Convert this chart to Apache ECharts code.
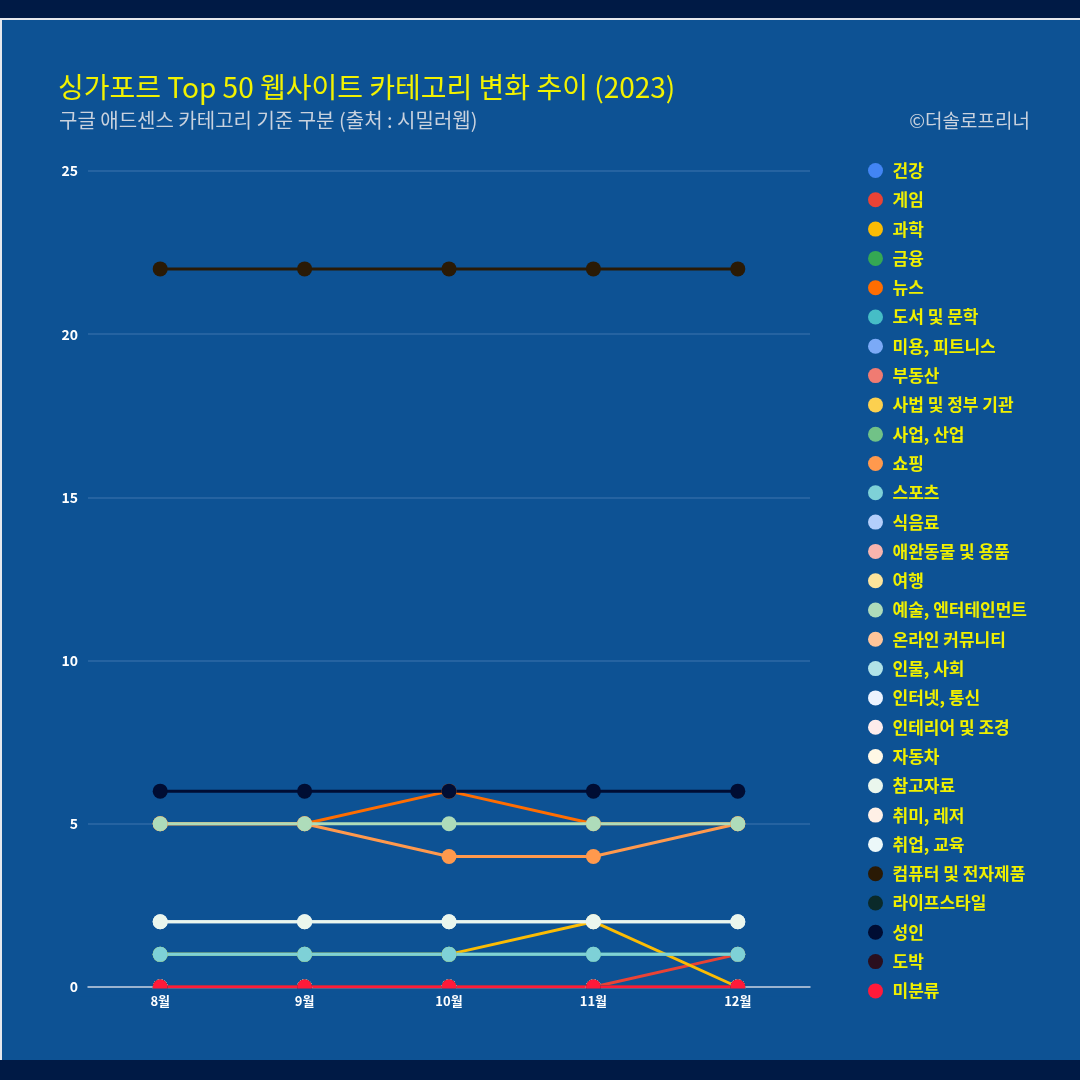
<!DOCTYPE html>
<html><head><meta charset="utf-8">
<script src="https://cdn.jsdelivr.net/npm/echarts@6/dist/echarts.min.js"></script>
<style>
html,body{margin:0;padding:0;width:1080px;height:1080px;background:#001a45;overflow:hidden}
#panel{position:absolute;left:0;top:18px;width:1078px;height:1040px;background:#0d5294;border-top:2px solid #e6e9ee;border-left:2px solid #e6e9ee}
#c{position:absolute;left:0;top:0;width:1080px;height:1080px}
</style></head><body>
<div id="panel"></div>
<div id="c"></div>
<script>
const months = ['8월','9월','10월','11월','12월'];
const names = ['건강','게임','과학','금융','뉴스','도서 및 문학','미용, 피트니스','부동산','사법 및 정부 기관','사업, 산업','쇼핑','스포츠','식음료','애완동물 및 용품','여행','예술, 엔터테인먼트','온라인 커뮤니티','인물, 사회','인터넷, 통신','인테리어 및 조경','자동차','참고자료','취미, 레저','취업, 교육','컴퓨터 및 전자제품','라이프스타일','성인','도박','미분류'];
const colors = ['#4285f4','#ea4335','#fbbc04','#34a853','#ff6d01','#46bdc6','#7baaf7','#f07b72','#fcd04f','#71c287','#ff994d','#7ed1d7','#b3cefb','#f7b4ae','#fde49b','#aedcba','#ffc599','#b1e3e7','#ecf3fe','#fdeceb','#fff8e6','#eaf6ed','#fff0e6','#ecf8f9','#2a1a05','#0a2a2a','#000d33','#2a0f1e','#ff1a3a'];
const v건강 = [0,0,0,0,0];
const v게임 = [0,0,0,0,1];
const v과학 = [1,1,1,2,0];
const v금융 = [0,0,0,0,0];
const v뉴스 = [5,5,6,5,5];
const v도서 = [0,0,0,0,0];
const v미용 = [0,0,0,0,0];
const v부동산 = [0,0,0,0,0];
const v사법 = [0,0,0,0,0];
const v사업 = [1,1,1,1,1];
const v쇼핑 = [5,5,4,4,5];
const v스포츠 = [1,1,1,1,1];
const v식음료 = [0,0,0,0,0];
const v애완 = [0,0,0,0,0];
const v여행 = [0,0,0,0,0];
const v예술 = [5,5,5,5,5];
const v온라인 = [0,0,0,0,0];
const v인물 = [0,0,0,0,0];
const v인터넷 = [2,2,2,2,2];
const v인테리어 = [0,0,0,0,0];
const v자동차 = [0,0,0,0,0];
const v참고 = [2,2,2,2,2];
const v취미 = [0,0,0,0,0];
const v취업 = [0,0,0,0,0];
const v컴퓨터 = [22,22,22,22,22];
const v라이프 = [0,0,0,0,0];
const v성인 = [6,6,6,6,6];
const v도박 = [0,0,0,0,0];
const v미분류 = [0,0,0,0,0];
const values = [v건강,v게임,v과학,v금융,v뉴스,v도서,v미용,v부동산,v사법,v사업,v쇼핑,v스포츠,v식음료,v애완,v여행,v예술,v온라인,v인물,v인터넷,v인테리어,v자동차,v참고,v취미,v취업,v컴퓨터,v라이프,v성인,v도박,v미분류];
const yTicks = [0,5,10,15,20,25];

const font = '"Noto Sans CJK KR", "Noto Sans", sans-serif';
const chart = echarts.init(document.getElementById('c'), null, {renderer:'canvas'});
chart.setOption({
  backgroundColor: 'transparent',
  color: colors,
  animation: false,
  title: [
    {text:'싱가포르 Top 50 웹사이트 카테고리 변화 추이 (2023)', left:53, top:68,
     textStyle:{color:'#f2f200', fontSize:28, fontWeight:'normal', fontFamily:font}},
    {text:'구글 애드센스 카테고리 기준 구분 (출처 : 시밀러웹)', left:54, top:105,
     textStyle:{color:'#c9d2de', fontSize:20, fontWeight:'normal', fontFamily:font}},
    {text:'©더솔로프리너', right:45, top:106,
     textStyle:{color:'#c9d2de', fontSize:19, fontWeight:'normal', fontFamily:font}}
  ],
  grid: {left:88, right:270, top:171, bottom:93},
  legend: {
    orient:'vertical', left:863, top:157, icon:'circle',
    itemWidth:24, itemHeight:15, itemGap:12.3,
    data: names,
    textStyle:{color:'#f0f000', fontSize:17, fontWeight:'bold', fontFamily:font, lineHeight:17}
  },
  xAxis: [{
    type:'category', data: months, boundaryGap:true, z:10,
    axisLine:{show:false},
    axisTick:{show:false},
    axisLabel:{color:'#ffffff', fontSize:13, fontWeight:'bold', fontFamily:font, margin:8}
  },{
    type:'category', data: months, boundaryGap:true, z:0, position:'bottom',
    axisLine:{lineStyle:{color:'#c4cede', width:1.5}},
    axisTick:{show:false}, axisLabel:{show:false}
  }],
  yAxis: {
    type:'value', min:0, max:25, interval:5,
    axisLabel:{color:'#ffffff', fontSize:14, fontWeight:'bold', fontFamily:font, margin:10,
      formatter: v => yTicks.includes(v) ? String(v) : ''},
    splitLine:{lineStyle:{color:'#2e6aa6', width:1.5}},
    axisLine:{show:false}, axisTick:{show:false}
  },
  graphic: [{type:'rect', z:5, shape:{x:80, y:988.6, width:740, height:8}, style:{fill:'#0d5294'}}],
  series: names.map((n,i)=>({
    name:n, type:'line', data: values[i], symbol:'circle', symbolSize:15,
    showSymbol:true, z:2, xAxisIndex:0,
    lineStyle:{width:3, color:colors[i]},
    itemStyle:{color:colors[i]},
    emphasis:{disabled:true}
  }))
});
</script>
</body></html>
